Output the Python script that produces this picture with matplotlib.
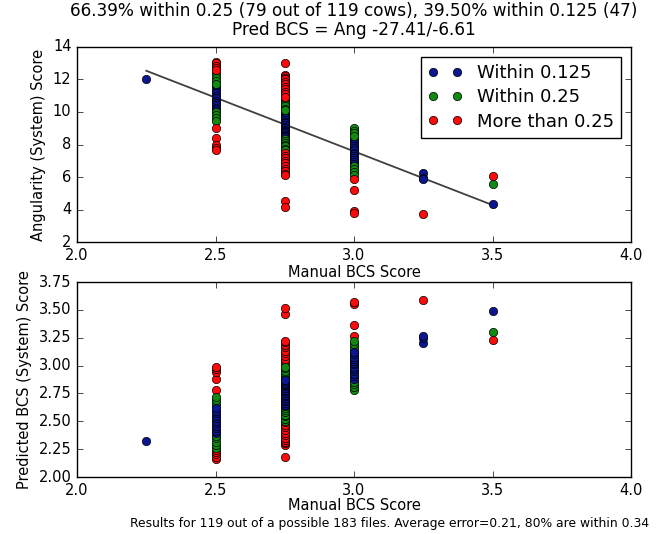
import numpy as np
import matplotlib
matplotlib.use('Agg')
import matplotlib.pyplot as plt

# angularity (system) score per cow, grouped by manual BCS score
ang_225 = [12.05]
ang_250 = [13.1, 13.0, 12.85, 12.7, 12.6,
           12.45, 12.3, 12.1, 11.9, 11.75,
           11.6, 11.45, 11.3, 11.15, 11.0, 10.85, 10.7, 10.55, 10.4, 10.25, 10.1,
           10.0, 9.8, 9.6, 9.45,
           9.0, 8.4, 7.95, 7.8, 7.65]
ang_275 = [13.0, 12.3, 12.2, 12.1, 12.0, 11.85, 11.7, 11.55, 11.4, 11.25, 11.1, 10.95,
           10.85, 10.75, 10.6, 10.5, 10.35, 10.2, 10.1,
           10.0, 9.9, 9.8, 9.7, 9.6, 9.5, 9.4, 9.3, 9.2, 9.1, 9.0, 8.9, 8.8, 8.75,
           8.7, 8.6, 8.5, 8.45,
           8.35, 8.2, 8.1, 8.0, 7.9, 7.75, 7.65,
           7.5, 7.3, 7.2, 7.0, 6.85, 6.7, 6.5, 6.35, 6.2, 6.1, 4.5, 4.15]
ang_300 = [9.0, 8.85, 8.7, 8.55,
           8.35, 8.2, 8.05, 7.9, 7.8, 7.65, 7.5, 7.4, 7.3, 7.2, 7.05, 6.9, 6.8,
           6.7, 6.5, 6.3, 6.15,
           5.85, 5.2, 3.9, 3.8]
ang_325 = [6.25, 5.95, 5.85, 3.7]
ang_350 = [4.35, 5.6, 6.05]

# regression from the title: Pred BCS = (Ang - 27.41) / -6.61
intercept = 27.41
slope = -6.61

groups = [(2.25, ang_225), (2.5, ang_250), (2.75, ang_275),
          (3.0, ang_300), (3.25, ang_325), (3.5, ang_350)]
manual = np.concatenate([[m] * len(a) for m, a in groups])
ang = np.concatenate([a for m, a in groups])
pred = (ang - intercept) / slope
err = np.abs(pred - manual)

blue = err <= 0.125
green = (err > 0.125) & (err <= 0.25)
red = err > 0.25

c_blue = '#0c1690'
c_green = '#128a12'
c_red = '#ff0a0a'

plt.style.use('classic')
fig = plt.figure(figsize=(6.71, 5.34), dpi=100, facecolor='white')

ax1 = fig.add_axes([0.1148, 0.5468, 0.8256, 0.3652])
ax2 = fig.add_axes([0.1148, 0.1067, 0.8256, 0.3652])

line_x = np.array([2.25, 3.5])
ax1.plot(line_x, intercept + slope * line_x, '-', color='0.25', lw=1.3)

h_b, = ax1.plot(manual[blue], ang[blue], 'o', color=c_blue, label='Within 0.125')
h_g, = ax1.plot(manual[green], ang[green], 'o', color=c_green, label='Within 0.25')
h_r, = ax1.plot(manual[red], ang[red], 'o', color=c_red, label='More than 0.25')

ax2.plot(manual[red], pred[red], 'o', color=c_red)
ax2.plot(manual[green], pred[green], 'o', color=c_green)
ax2.plot(manual[blue], pred[blue], 'o', color=c_blue)

ax1.set_xlim(2.0, 4.0)
ax1.set_ylim(2, 14)
ax1.set_xticks([2.0, 2.5, 3.0, 3.5, 4.0])
ax1.set_yticks([2, 4, 6, 8, 10, 12, 14])
ax1.set_xlabel('Manual BCS Score', fontsize=10.5, labelpad=2)
ax1.set_ylabel('Angularity (System) Score', fontsize=10.5)
ax1.set_title('66.39% within 0.25 (79 out of 119 cows), 39.50% within 0.125 (47)\n'
              'Pred BCS = Ang -27.41/-6.61', fontsize=12.2, linespacing=1.05, y=1.025)
ax1.legend(handles=[h_b, h_g, h_r], loc='upper right', fontsize=13,
           numpoints=2, borderaxespad=0.55, handlelength=1.9, labelspacing=0.35)

ax2.set_xlim(2.0, 4.0)
ax2.set_ylim(2.0, 3.75)
ax2.set_xticks([2.0, 2.5, 3.0, 3.5, 4.0])
ax2.set_yticks([2.0, 2.25, 2.5, 2.75, 3.0, 3.25, 3.5, 3.75])
ax2.yaxis.set_major_formatter(matplotlib.ticker.FormatStrFormatter('%.2f'))
ax2.set_xlabel('Manual BCS Score', fontsize=10.5, labelpad=0)
ax2.set_ylabel('Predicted BCS (System) Score', fontsize=10.5)

for ax in (ax1, ax2):
    ax.tick_params(labelsize=10.5)

fig.text(0.581, 0.008, 'Results for 119 out of a possible 183 files. '
         'Average error=0.21, 80% are within 0.34', ha='center', va='bottom',
         fontsize=8.9)

fig.savefig('out.png', dpi=100, facecolor='white')
